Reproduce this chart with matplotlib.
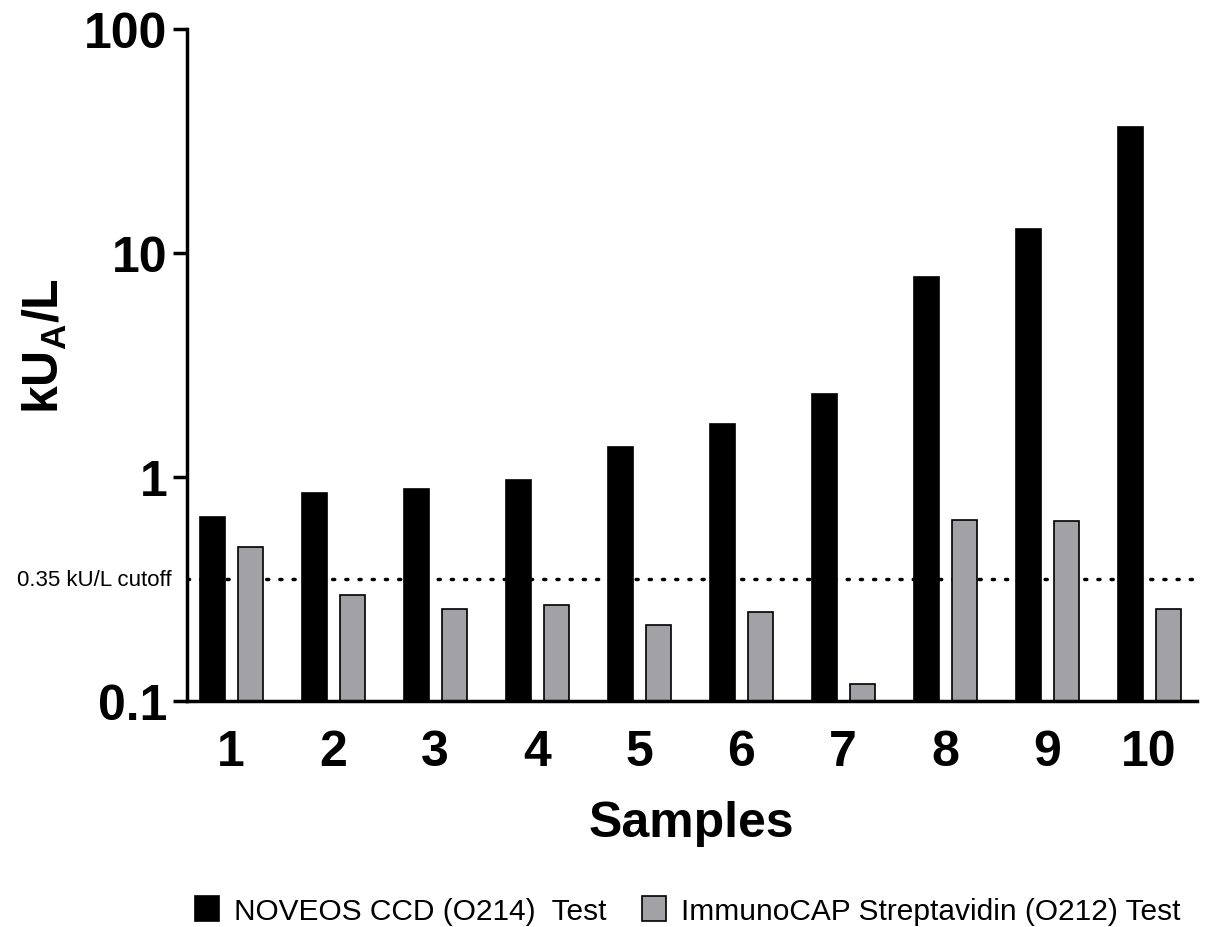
import numpy as np
import matplotlib
matplotlib.use("Agg")
import matplotlib.pyplot as plt
from matplotlib.patches import Patch

plt.rcParams["font.family"] = ["Liberation Sans", "DejaVu Sans"]
plt.rcParams["mathtext.fontset"] = "custom"
plt.rcParams["mathtext.bf"] = "Liberation Sans:bold"
plt.rcParams["mathtext.rm"] = "Liberation Sans"

amostras = ["1", "2", "3", "4", "5", "6", "7", "8", "9", "10"]
noveos = [0.66, 0.85, 0.88, 0.97, 1.36, 1.72, 2.35, 7.8, 12.8, 36.5]
immunocap = [0.487, 0.297, 0.257, 0.268, 0.218, 0.25, 0.119, 0.643, 0.637, 0.257]
cutoff = 0.35

x = np.arange(len(amostras))
larg = 0.245
desloc = 0.186

fig = plt.figure(figsize=(12.05, 9.28), dpi=100)
ax = fig.add_axes([0.155, 0.2435, 0.838, 0.7242])

ax.bar(x - desloc, noveos, width=larg, color="black", edgecolor="black",
       linewidth=1.2, label="NOVEOS CCD (O214)  Test")
ax.bar(x + desloc, immunocap, width=larg, color="#a2a1a6", edgecolor="black",
       linewidth=1.2, label="ImmunoCAP Streptavidin (O212) Test")

# linha de corte pontilhada
ax.axhline(cutoff, color="black", linestyle=(0, (0.6, 3.2)), linewidth=2.5,
           dash_capstyle="round", zorder=0.5)
ax.text(-0.58, cutoff, "0.35 kU/L cutoff", ha="right", va="center",
        fontsize=16, clip_on=False)

ax.set_yscale("log")
ax.set_ylim(0.1, 100)
ax.set_xlim(-0.436, 9.466)
ax.set_yticks([0.1, 1, 10, 100])
ax.set_yticklabels(["0.1", "1", "10", "100"])
ax.yaxis.set_minor_locator(matplotlib.ticker.NullLocator())
ax.set_xticks(x)
ax.set_xticklabels(amostras)

for lbl in ax.get_yticklabels() + ax.get_xticklabels():
    lbl.set_fontsize(36)
    lbl.set_fontweight("bold")

ax.tick_params(axis="y", direction="out", length=10, width=2.5, pad=4)
ax.tick_params(axis="x", length=0, pad=20)

for lado in ["top", "right"]:
    ax.spines[lado].set_visible(False)
ax.spines["left"].set_linewidth(2.5)
ax.spines["bottom"].set_linewidth(2.5)

ax.set_xlabel("Samples", fontsize=36, fontweight="bold", labelpad=18)
ax.set_ylabel(r"$\mathbf{kU}_\mathbf{A}\mathbf{/L}$", fontsize=36)
ax.yaxis.set_label_coords(-0.117, 0.53)

handles = [Patch(facecolor="black", edgecolor="black", linewidth=1.2),
           Patch(facecolor="#a2a1a6", edgecolor="black", linewidth=1.2)]
fig.legend(handles, ["NOVEOS CCD (O214)  Test", "ImmunoCAP Streptavidin (O212) Test"],
           loc="center", bbox_to_anchor=(0.571, 0.018), ncol=2, frameon=False,
           fontsize=21.5, handlelength=0.8, handleheight=0.9, handletextpad=0.5,
           columnspacing=1.2)

fig.savefig("out.png", dpi=100)
plt.close(fig)
